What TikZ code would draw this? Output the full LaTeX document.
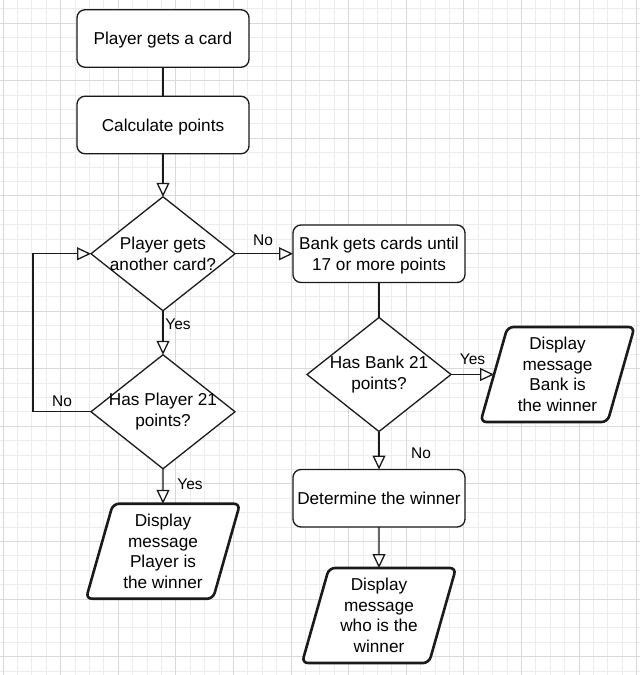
\documentclass[tikz,border=0pt]{standalone}
\usepackage{fontspec}
\setmainfont{Liberation Sans}
\usetikzlibrary{positioning, shapes.geometric, arrows.meta}

\definecolor{linecol}{HTML}{1A1A1A}
\definecolor{gridminor}{HTML}{EDEDED}
\definecolor{gridmajor}{HTML}{D9D9D9}

\tikzset{
  process/.style={draw=linecol, fill=white, line width=1.3pt, rounded corners=8pt,
    minimum width=172pt, minimum height=57.5pt, align=center, outer sep=0pt,
    text depth=0pt, font=\fontsize{17.2}{20.5}\selectfont},
  decision/.style={diamond, draw=linecol, fill=white, line width=1.3pt, aspect=1.26,
    minimum width=144pt, minimum height=114pt, inner sep=-2.5pt, align=center,
    outer sep=0pt, font=\fontsize{17.2}{20.5}\selectfont},
  output/.style={trapezium, trapezium left angle=70, trapezium right angle=110,
    trapezium stretches body, draw=linecol, fill=white, line width=2.6pt,
    rounded corners=6pt, minimum width=154pt, minimum height=95pt, inner sep=0pt,
    outer sep=0pt, align=center, font=\fontsize{17.2}{20.5}\selectfont}
}

\begin{document}
\begin{tikzpicture}[x=1pt, y=-1pt, node distance=30pt,
    flow/.style={draw=linecol, line width=1.3pt},
    arrow/.style={flow, -{Triangle[length=14pt, width=13pt, fill=white]}},
    lbl/.style={font=\fontsize{15.5}{18}\selectfont, inner sep=0pt}]

  % background grid
  \fill[white] (0,0) rectangle (640,675);
  \begin{scope}
    \clip (0,0) rectangle (640,675);
    \draw[gridminor, line width=0.8pt, shift={(3,23)}, step=14.4pt] (-40,700) grid (680,-40);
    \draw[gridmajor, line width=0.8pt, shift={(3,23)}, step=57.6pt] (-60,720) grid (700,-60);
  \end{scope}
  \useasboundingbox (0,0) rectangle (640,675);

  \node[process]                    (card)   at (163,38.5) {Player gets a card};
  \node[process, below=29pt of card]   (calc)   {Calculate points};
  \node[decision, below=43pt of calc]  (askp)   {Player gets\\another card?};
  \node[decision, below=44pt of askp]  (hasp)   {Has Player 21\\points?};
  \node[output, below=35pt of hasp]    (pwin)   {Display\\message\\Player is\\the winner};
  \node[process, right=58pt of askp]   (bank)   {Bank gets cards until\\17 or more points};
  \node[decision, below=35pt of bank]  (hasb)   {Has Bank 21\\points?};
  \node[output, right=43pt of hasb]    (bwin)   {Display\\message\\Bank is\\the winner};
  \node[process, below=38pt of hasb]   (decide) {Determine the winner};
  \node[output, below=41pt of decide]  (dwin)   {Display\\message\\who is the\\winner};

  \draw[flow] (card) -- (calc);
  \draw[arrow] (calc) -- (askp);
  \draw[arrow] (askp) -- node[lbl, xshift=-1pt, yshift=14pt] (nobank) {No} (bank);
  \draw[arrow] (askp) -- node[lbl, xshift=15pt, yshift=8.5pt] (yesask) {Yes} (hasp);
  \draw[arrow] (hasp.west) -- ++(-58,0) node[lbl, midway, yshift=11pt] (noagain) {No} |- (askp.west);
  \draw[arrow] (hasp) -- node[lbl, xshift=27pt, yshift=2.5pt] (yesplayer) {Yes} (pwin);
  \draw[flow] (bank) -- (hasb);
  \draw[arrow] (hasb.east) -- node[lbl, yshift=15pt] (yesbank) {Yes} (bwin.west);
  \draw[arrow] (hasb) -- node[lbl, xshift=42pt, yshift=-3pt] (nobank21) {No} (decide);
  \draw[arrow] (decide) -- (dwin);

\end{tikzpicture}
\end{document}
